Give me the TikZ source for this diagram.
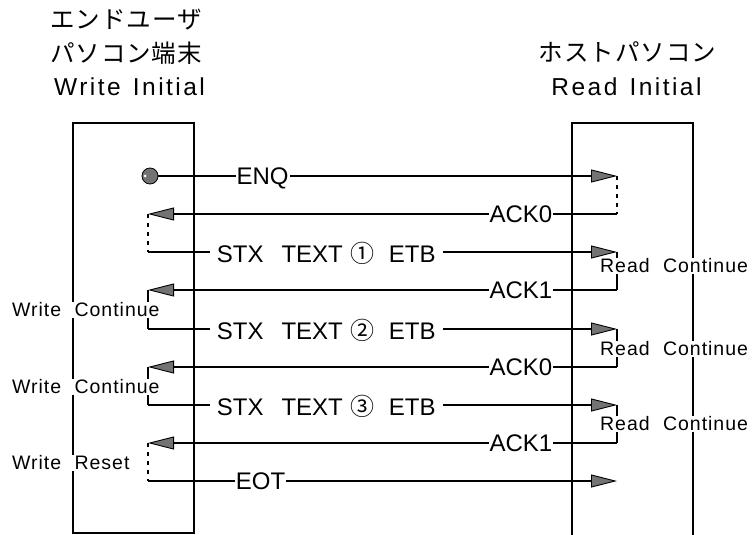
\documentclass[tikz,border=0pt]{standalone}
\usepackage{fontspec}
\setmainfont{Liberation Sans}
\newfontfamily\jpfont[LetterSpace=4]{Noto Sans CJK JP}
\newfontfamily\widefont[LetterSpace=10]{Liberation Sans}
\newfontfamily\sidefont[LetterSpace=5]{Liberation Sans}
\usetikzlibrary{arrows.meta}

\begin{document}
\begin{tikzpicture}[x=1pt, y=-1pt,
  lane/.style={draw, line width=1.6pt, minimum width=121pt, inner sep=0pt},
  head/.style={font=\fontsize{24.5}{26}\widefont, inner sep=0pt},
  side/.style={fill=white, inner sep=1pt, anchor=west, font=\fontsize{19.5}{21}\sidefont},
  send/.style={line width=1.7pt, -{Triangle[length=26pt, width=13pt, fill=black!55, line width=0.9pt]}},
  lbl/.style={fill=white, inner sep=1pt, text depth=0pt, font=\fontsize{24}{26}\selectfont},
  wait/.style={line width=2.4pt, dash pattern=on 4pt off 5pt},
  hold/.style={line width=1.7pt}
]
  \useasboundingbox (0,0) rectangle (753,535);

  \node[head] (userjp1) at (126,20) {\jpfont エンドユーザ};
  \node[head] (userjp2) at (126,53) {\jpfont パソコン端末};
  \node[head] (userrole) at (129.5,87) {Write\hspace{3pt} Initial};
  \node[head] (hostjp) at (627.5,52) {\jpfont ホストパソコン};
  \node[head] (hostrole) at (626.5,87) {Read\hspace{3pt} Initial};

  \node[lane, minimum height=410pt] (user) at (133.5,328) {};
  \node[lane, minimum height=430pt] (host) at (632.5,338) {};

  % message rows: w = terminal side, h = host side
  \foreach \r/\y in {1/176,2/214,3/252,4/290,5/329,6/367,7/405,8/443,9/481} {
    \coordinate (w\r) at (148,\y);
    \coordinate (h\r) at (617,\y);
  }

  \node[circle, draw, fill=black!55, line width=0.8pt, minimum size=16pt, inner sep=0pt] (enq) at (150,176) {};
  \fill[white] (145,176) circle (1.5pt);

  \draw[send] (enq) -- node[lbl, pos=0.227] {ENQ} (h1);
  \draw[send] (h2) -- node[lbl, pos=0.205] {ACK0} (w2);
  \draw[send] (w3) -- node[lbl, inner xsep=7pt, pos=0.38] {STX\hspace{18pt}TEXT\hspace{8pt}{\jpfont ①}\hspace{14pt}ETB} (h3);
  \draw[send] (h4) -- node[lbl, pos=0.205] {ACK1} (w4);
  \draw[send] (w5) -- node[lbl, inner xsep=7pt, pos=0.38] {STX\hspace{18pt}TEXT\hspace{8pt}{\jpfont ②}\hspace{14pt}ETB} (h5);
  \draw[send] (h6) -- node[lbl, pos=0.205] {ACK0} (w6);
  \draw[send] (w7) -- node[lbl, inner xsep=7pt, pos=0.38] {STX\hspace{18pt}TEXT\hspace{8pt}{\jpfont ③}\hspace{14pt}ETB} (h7);
  \draw[send] (h8) -- node[lbl, pos=0.205] {ACK1} (w8);
  \draw[send] (w9) -- node[lbl, pos=0.24] {EOT} (h9);

  \draw[wait] (h1) -- (h2);
  \draw[wait] (w2) -- (w3);
  \draw[hold] (h3) -- (h4);
  \draw[hold] (w4) -- (w5);
  \draw[hold] (h5) -- (h6);
  \draw[hold] (w6) -- (w7);
  \draw[hold] (h7) -- (h8);
  \draw[wait] (w8) -- (w9);

  \node[side] (wcont1) at (11,310) {Write\hspace{7pt} Continue};
  \node[side] (wcont2) at (11,387) {Write\hspace{7pt} Continue};
  \node[side] (wreset) at (11,463) {Write\hspace{7pt} Reset};
  \node[side] (rcont1) at (599,266) {Read\hspace{7pt} Continue};
  \node[side] (rcont2) at (599,349) {Read\hspace{7pt} Continue};
  \node[side] (rcont3) at (599,424) {Read\hspace{7pt} Continue};
\end{tikzpicture}
\end{document}
